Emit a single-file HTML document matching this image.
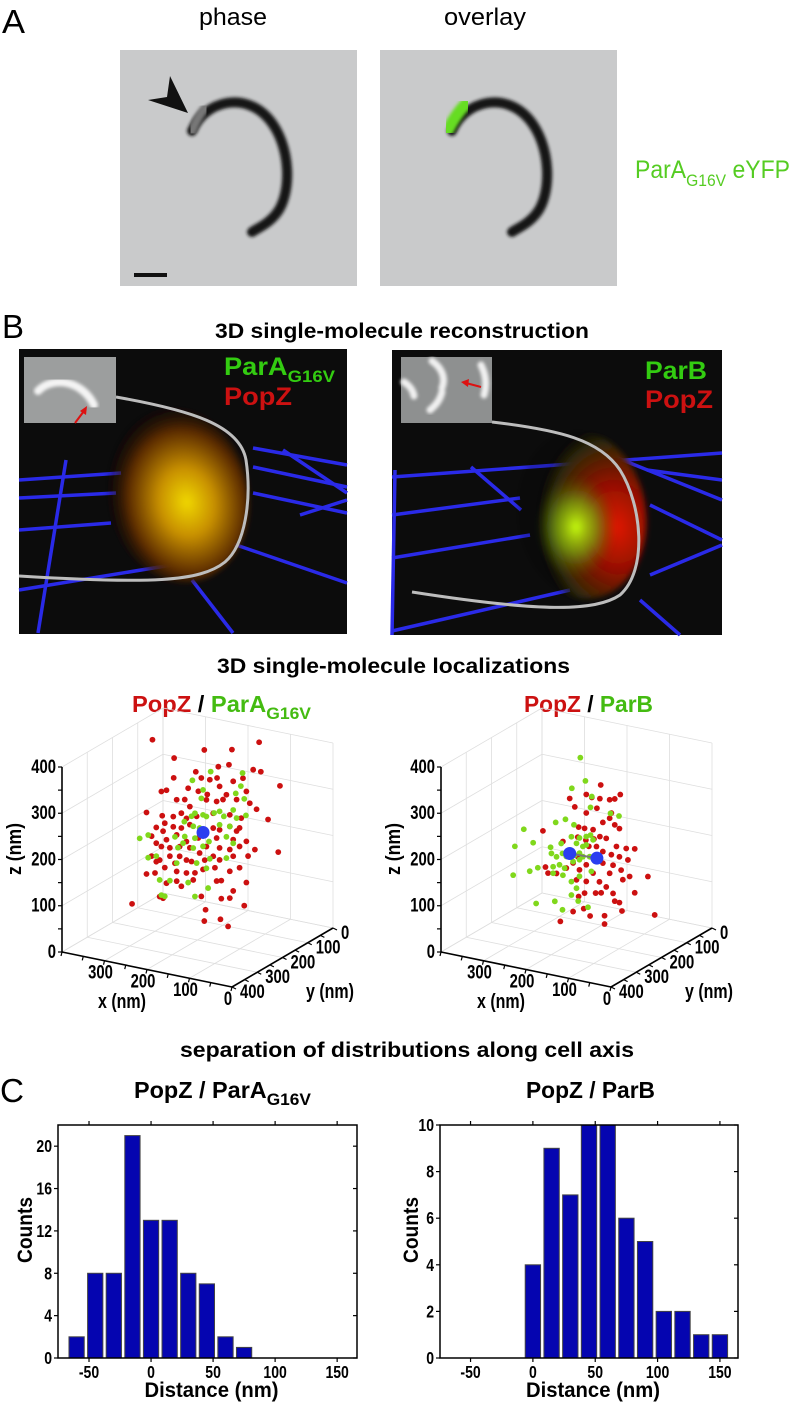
<!DOCTYPE html>
<html><head><meta charset="utf-8"><style>
html,body{margin:0;padding:0;background:#fff}
svg{display:block}
.n{font-family:"Liberation Sans",sans-serif}
.b{font-family:"Liberation Sans",sans-serif;font-weight:bold}
</style></head><body>
<svg id="fig" width="793" height="1405" viewBox="0 0 793 1405" xmlns="http://www.w3.org/2000/svg">
<defs>
<filter id="blur1"><feGaussianBlur stdDeviation="1.6"/></filter>
<filter id="blur3"><feGaussianBlur stdDeviation="3"/></filter>
<radialGradient id="gL" cx="0.55" cy="0.55" r="0.55">
<stop offset="0" stop-color="#f0d800"/><stop offset="0.35" stop-color="#c89000"/><stop offset="0.75" stop-color="#5a2a05"/><stop offset="1" stop-color="#1a0a04" stop-opacity="0.2"/></radialGradient>
<radialGradient id="gR" cx="0.75" cy="0.6" r="0.6">
<stop offset="0" stop-color="#e01800"/><stop offset="0.45" stop-color="#901000"/><stop offset="0.85" stop-color="#302a08"/><stop offset="1" stop-color="#141008" stop-opacity="0.2"/></radialGradient>
<radialGradient id="gG" cx="0.5" cy="0.5" r="0.5">
<stop offset="0" stop-color="#c8ff10"/><stop offset="0.5" stop-color="#78b010" stop-opacity="0.7"/><stop offset="1" stop-color="#406010" stop-opacity="0"/></radialGradient>
</defs>

<!-- Panel A -->
<text class="n" x="2" y="33" font-size="33" textLength="23" lengthAdjust="spacingAndGlyphs">A</text>
<text class="n" x="199" y="25" font-size="24" textLength="68" lengthAdjust="spacingAndGlyphs">phase</text>
<text class="n" x="444" y="25" font-size="24" textLength="82" lengthAdjust="spacingAndGlyphs">overlay</text>
<g>
<rect x="120" y="50" width="237" height="236" fill="#c9cacb"/>
<path d="M192,131 C205,100 245,92 268,118 C292,145 292,195 276,214 C268,224 258,228 252,232" fill="none" stroke="#151515" stroke-width="10" stroke-linecap="round" filter="url(#blur1)"/>
<path d="M192,131 C196,121 200,114 205,108" fill="none" stroke="#777" stroke-width="9" stroke-linecap="round" filter="url(#blur1)"/>
<polygon points="188,113 148,100 167,97 170,76" fill="#111"/>
<rect x="134" y="273" width="33" height="4" fill="#111"/>
</g>
<g transform="translate(260,0)">
<rect x="120" y="50" width="237" height="236" fill="#c9cacb"/>
<path d="M192,131 C205,100 245,92 268,118 C292,145 292,195 276,214 C268,224 258,228 252,232" fill="none" stroke="#151515" stroke-width="10" stroke-linecap="round" filter="url(#blur1)"/>
<path d="M188,130 C193,120 198,112 206,104" fill="none" stroke="#66dd22" stroke-width="12" stroke-linecap="round" filter="url(#blur1)"/>
</g>
<text class="n" x="635" y="178" font-size="25" fill="#55cc22" textLength="155" lengthAdjust="spacingAndGlyphs">ParA<tspan font-size="17" dy="8">G16V</tspan><tspan dy="-8"> eYFP</tspan></text>

<!-- Panel B -->
<text class="n" x="2" y="338" font-size="33" textLength="22" lengthAdjust="spacingAndGlyphs">B</text>
<text class="b" x="215" y="338" font-size="21" textLength="374" lengthAdjust="spacingAndGlyphs">3D single-molecule reconstruction</text>

<g>
<rect x="19" y="349" width="328" height="285" fill="#0c0c0c"/>
<g stroke="#2a2ae8" stroke-width="3.5" fill="none">
<line x1="19" y1="480" x2="121" y2="473"/><line x1="19" y1="498" x2="116" y2="493"/>
<line x1="19" y1="530" x2="111" y2="523"/><line x1="19" y1="590" x2="202" y2="560"/>
<line x1="253" y1="448" x2="347" y2="465"/><line x1="253" y1="467" x2="347" y2="487"/>
<line x1="253" y1="493" x2="347" y2="513"/><line x1="213" y1="537" x2="347" y2="583"/>
<line x1="192" y1="580" x2="233" y2="633"/><line x1="66" y1="460" x2="38" y2="633"/>
<line x1="283" y1="450" x2="347" y2="493"/><line x1="300" y1="515" x2="347" y2="500"/>
</g>
<ellipse cx="178" cy="495" rx="70" ry="88" fill="url(#gL)" transform="rotate(-12 178 495)" filter="url(#blur3)"/>
<path d="M116,397 C190,410 240,425 246,460 C252,500 245,545 225,562 C200,582 150,584 19,576" fill="none" stroke="#bdbdbd" stroke-width="3"/>
<rect x="24" y="357" width="92" height="66" fill="#9c9e9e"/>
<path d="M38,391 C52,376 82,380 94,405" fill="none" stroke="#f4f4f4" stroke-width="8" stroke-linecap="round" filter="url(#blur1)"/>
<line x1="75" y1="423" x2="84" y2="411" stroke="#dd1111" stroke-width="2"/>
<polygon points="87,406 86,415 80,411" fill="#dd1111"/>
<text class="b" x="224" y="375" font-size="25" fill="#33cc11" textLength="111" lengthAdjust="spacingAndGlyphs">ParA<tspan font-size="17" dy="7">G16V</tspan></text>
<text class="b" x="224" y="405" font-size="25" fill="#cc1111" textLength="68" lengthAdjust="spacingAndGlyphs">PopZ</text>
</g>

<g>
<rect x="392" y="350" width="330" height="285" fill="#0c0c0c"/>
<g stroke="#2a2ae8" stroke-width="3.5" fill="none">
<line x1="392" y1="477" x2="722" y2="453"/><line x1="392" y1="515" x2="520" y2="498"/>
<line x1="392" y1="558" x2="530" y2="535"/><line x1="392" y1="631" x2="570" y2="590"/>
<line x1="647" y1="470" x2="722" y2="480"/><line x1="650" y1="505" x2="722" y2="540"/>
<line x1="471" y1="467" x2="521" y2="510"/><line x1="395" y1="470" x2="392" y2="635"/>
<line x1="640" y1="600" x2="680" y2="635"/><line x1="610" y1="455" x2="722" y2="500"/>
<line x1="650" y1="575" x2="722" y2="545"/>
</g>
<ellipse cx="582" cy="515" rx="64" ry="84" fill="url(#gR)" transform="rotate(-8 582 515)" filter="url(#blur3)"/>
<ellipse cx="576" cy="527" rx="40" ry="52" fill="url(#gG)" filter="url(#blur3)"/>
<path d="M492,422 C560,430 600,440 620,470 C642,505 648,570 620,595 C595,612 540,612 412,592" fill="none" stroke="#bdbdbd" stroke-width="3"/>
<rect x="401" y="357" width="91" height="66" fill="#8e9090"/>
<g fill="none" stroke="#f0f0f0" stroke-width="7" stroke-linecap="round" filter="url(#blur1)">
<path d="M432,361 C442,368 446,378 442,388"/><path d="M442,392 C440,400 436,405 430,410"/>
<path d="M481,365 C486,375 487,385 484,395"/><path d="M404,382 C410,386 413,390 414,396"/>
</g>
<line x1="481" y1="387" x2="466" y2="383" stroke="#dd1111" stroke-width="2"/>
<polygon points="461,382 469,379 468,387" fill="#dd1111"/>
<text class="b" x="645" y="379" font-size="25" fill="#33cc11" textLength="62" lengthAdjust="spacingAndGlyphs">ParB</text>
<text class="b" x="645" y="408" font-size="25" fill="#cc1111" textLength="68" lengthAdjust="spacingAndGlyphs">PopZ</text>
</g>

<text class="b" x="217" y="673" font-size="21" textLength="353" lengthAdjust="spacingAndGlyphs">3D single-molecule localizations</text>
<text class="b" x="132" y="712" font-size="23" textLength="179" lengthAdjust="spacingAndGlyphs"><tspan fill="#cc1111">PopZ</tspan><tspan fill="#000"> / </tspan><tspan fill="#44bb11">ParA</tspan><tspan fill="#44bb11" font-size="17" dy="7">G16V</tspan></text>
<text class="b" x="524" y="712" font-size="23" textLength="129" lengthAdjust="spacingAndGlyphs"><tspan fill="#cc1111">PopZ</tspan><tspan fill="#000"> / </tspan><tspan fill="#44bb11">ParB</tspan></text>

<g id="scatters"></g>

<!-- Panel C -->
<text class="b" x="180" y="1057" font-size="21" textLength="454" lengthAdjust="spacingAndGlyphs">separation of distributions along cell axis</text>
<text class="n" x="0" y="1102" font-size="33" textLength="24" lengthAdjust="spacingAndGlyphs">C</text>
<text class="b" x="134" y="1098" font-size="23" textLength="177" lengthAdjust="spacingAndGlyphs">PopZ / ParA<tspan font-size="17" dy="7">G16V</tspan></text>
<text class="b" x="526" y="1098" font-size="23" textLength="129" lengthAdjust="spacingAndGlyphs">PopZ / ParB</text>
<g id="hists"></g>
</svg>

<script>
// ---------- Histogram data ----------
const histLeftCenters = [-60,-45,-30,-15,0,15,30,45,60,75];
const histLeftCounts = [2,8,8,21,13,13,8,7,2,1];
const histRightCenters = [0,15,30,45,60,75,90,105,120,135,150];
const histRightCounts = [4,9,7,10,10,6,5,2,2,1,1];
const histXTicks = [-50,0,50,100,150];
const histLeftYTicks = [0,4,8,12,16,20];
const histRightYTicks = [0,2,4,6,8,10];
const binWidth = 15;

// ---------- 3D scatter data (nm); y assumed at 200 nm depth ----------
const leftRedX = [306,184,119,55,255,151,126,69,51,204,191,171,154,116,93,256,6,285,273,222,198,177,148,132,85,230,249,218,179,155,140,108,77,61,320,283,257,238,226,202,163,124,97,34,297,277,257,238,218,163,148,124,108,101,308,281,273,249,226,198,155,116,85,297,285,265,242,218,179,148,124,101,65,10,308,289,265,242,226,195,163,148,116,81,320,300,277,249,226,206,187,159,124,101,273,249,210,155,144,116,85,238,289,281,191,144,124,90,354,181,184,146,128,297,253,183,214];
const leftRedZ = [413,414,427,455,383,384,393,393,392,363,352,352,359,359,370,340,370,305,310,324,322,319,342,327,343,298,294,285,307,308,315,321,319,309,253,253,256,267,258,267,281,285,283,292,225,238,234,235,246,249,248,260,253,261,204,220,203,218,208,221,229,233,235,191,186,187,194,196,206,209,210,221,221,226,161,156,169,173,168,189,188,183,197,204,120,126,142,139,140,144,155,164,163,175,109,118,128,136,139,122,146,109,77,75,96,100,105,95,49,69,44,55,43,151,156,176,167];
const leftGreenX = [169,94,212,98,187,110,191,90,206,187,179,161,148,138,116,108,86,231,210,195,148,124,336,316,253,230,206,187,173,132,116,246,210,187,297,316,249,202,171,132,289,265,222,175,285,277,206,179,234,214];
const leftGreenZ = [370,381,343,352,327,334,308,326,273,273,271,282,288,279,297,281,291,250,244,243,259,260,194,205,213,218,219,230,218,236,225,191,197,205,163,156,157,166,181,190,113,116,120,117,81,80,93,159,203,265];
const leftCentroids = [[187,235]];
const rightRedX = [143,177,216,164,145,122,110,97,204,152,177,118,122,138,279,195,181,161,145,110,99,232,197,178,159,130,106,83,63,171,153,138,118,99,79,197,208,177,138,114,95,273,267,247,224,193,161,122,75,32,91,200,177,146,130,114,142,155,63,181,195,99,110,208,183,168,134,93,238,134,16];
const rightRedZ = [346,319,303,315,316,318,322,334,287,294,279,290,278,266,221,245,245,246,234,266,260,207,223,220,226,233,220,220,223,208,211,203,200,199,196,181,165,167,178,178,171,144,132,135,151,153,152,159,161,169,151,130,131,136,128,117,113,110,128,105,95,100,101,60,71,58,65,83,33,47,89];
const rightGreenX = [191,179,211,164,167,120,100,226,249,206,324,302,345,261,236,212,193,177,167,161,200,185,177,259,247,233,224,204,193,185,169,208,193,291,255,240,228,310,349,255,232,193,165,212,200,212,196,295,251,233,173];
const rightGreenZ = [396,348,326,317,293,289,287,256,245,248,216,191,175,189,202,221,222,228,233,224,209,205,210,176,171,181,176,183,189,183,186,168,175,139,148,155,150,128,112,134,134,139,155,124,112,95,85,61,74,59,76];
const rightCentroids = [[216,184],[152,186]];
const axisTicks3D = [0,100,200,300,400];
const xTickLabels3D = [0,100,200,300];
const pointDepth = 200;

const NS = "http://www.w3.org/2000/svg";
function mk(tag, attrs, parent){
  const e = document.createElementNS(NS, tag);
  for (const k in attrs) e.setAttribute(k, attrs[k]);
  parent.appendChild(e);
  return e;
}
// condensed text: horizontal squeeze around anchor x
function ctext(parent, x, y, str, size, anchor, sx){
  const t = mk('text', {x: x, y: y, 'font-size': size, 'text-anchor': anchor || 'start', class: 'b',
    transform: `translate(${x},0) scale(${sx || 0.8},1) translate(${-x},0)`}, parent);
  t.textContent = str;
  return t;
}

// ---------- Histograms ----------
const hists = document.getElementById('hists');
function drawHist(name, left, right, xmin, xmax, ymax, centers, counts, yTicks, countsX){
  const top = 1125, bottom = 1358;
  const xs = v => left + (v - xmin) / (xmax - xmin) * (right - left);
  const ys = v => bottom - v / ymax * (bottom - top);
  const g = mk('g', {}, hists);
  
  
  for (let i = 0; i < centers.length; i++) {
    const x0 = xs(centers[i] - binWidth * 0.41), x1 = xs(centers[i] + binWidth * 0.41);
    const r = mk('rect', {x: x0, y: ys(counts[i]), width: x1 - x0, height: ys(0) - ys(counts[i]), fill: '#0505b0', stroke: '#444', 'stroke-width': 1}, g);
    
    
  }
  const fr = mk('rect', {x: left, y: top, width: right - left, height: bottom - top, fill: 'none', stroke: '#000', 'stroke-width': 1.5}, g);
  
  
  histXTicks.forEach(t => {
    const x = xs(t);
    mk('line', {x1: x, y1: bottom, x2: x, y2: bottom + 4, stroke: '#000', 'stroke-width': 1.2}, g);
    mk('line', {x1: x, y1: top, x2: x, y2: top - 4, stroke: '#000', 'stroke-width': 1.2}, g);
    const tx = ctext(g, x, 1378, String(t), 18, 'middle', 0.78);
    
    
  });
  yTicks.forEach(t => {
    const y = ys(t);
    mk('line', {x1: left, y1: y, x2: left - 4, y2: y, stroke: '#000', 'stroke-width': 1.2}, g);
    mk('line', {x1: right, y1: y, x2: right - 4, y2: y, stroke: '#000', 'stroke-width': 1.2}, g);
    const tx = ctext(g, left - 6, y + 6, String(t), 18, 'end', 0.78);
    
    
  });
  const xl = mk('text', {x: (left + right) / 2 - 67 + 4, y: 1397, 'font-size': 21, class: 'b', textLength: 134, lengthAdjust: 'spacingAndGlyphs'}, g);
  xl.textContent = 'Distance (nm)';
  
  
  const yl = mk('text', {x: -33, y: 0, 'font-size': 21, class: 'b', textLength: 66, lengthAdjust: 'spacingAndGlyphs', transform: `translate(${countsX},1230) rotate(-90)`}, g);
  yl.textContent = 'Counts';
  
  
}
drawHist('histogram-popz-paraG16V', 58, 357, -75, 166, 22, histLeftCenters, histLeftCounts, histLeftYTicks, 32);
drawHist('histogram-popz-parb', 440, 738, -74.5, 164.5, 10, histRightCenters, histRightCounts, histRightYTicks, 418);

// ---------- 3D scatters ----------
const scat = document.getElementById('scatters');
function drawScatter(name, ox, redX, redZ, greenX, greenZ, cents){
  const P = (x, y, z) => [333 + ox - 0.425 * x - 0.2525 * y, 928 - 0.0875 * x + 0.1475 * y - 0.4625 * z];
  const g = mk('g', {}, scat);
  
  
  const grid = mk('g', {stroke: '#dedede', 'stroke-width': 0.8}, g);
  const L = (a, b, par, st) => { const p = P(...a), q = P(...b); return mk('line', Object.assign({x1: p[0], y1: p[1], x2: q[0], y2: q[1]}, st || {}), par); };
  axisTicks3D.forEach(t => {
    L([t,0,0],[t,400,0],grid); L([0,t,0],[400,t,0],grid);
    L([400,t,0],[400,t,400],grid); L([400,0,t],[400,400,t],grid);
    L([t,0,0],[t,0,400],grid); L([0,0,t],[400,0,t],grid);
  });
  const ax = {stroke: '#000', 'stroke-width': 1.6};
  L([400,400,0],[400,400,400],g,ax); L([400,400,0],[0,400,0],g,ax); L([0,400,0],[0,0,0],g,ax);
  for (let t = 0; t <= 400; t += 50) {
    const pz = P(400,400,t); mk('line', {x1: pz[0], y1: pz[1], x2: pz[0]-4, y2: pz[1], stroke: '#000', 'stroke-width': 1.2}, g);
    const px = P(t,400,0); mk('line', {x1: px[0], y1: px[1], x2: px[0]-1, y2: px[1]+4, stroke: '#000', 'stroke-width': 1.2}, g);
    const py = P(0,t,0); mk('line', {x1: py[0], y1: py[1], x2: py[0]+4, y2: py[1]+2, stroke: '#000', 'stroke-width': 1.2}, g);
  }
  axisTicks3D.forEach(t => {
    const pz = P(400,400,t);
    const a = ctext(g, pz[0] - 6, pz[1] + 6, String(t), 19, 'end', 0.78);
    
    
    const py = P(0,t,0);
    const c = ctext(g, py[0] + 8, py[1] + 11, String(t), 19, 'start', 0.78);
    
    
  });
  xTickLabels3D.forEach(t => {
    const px = P(t,400,0);
    const b = ctext(g, px[0] - 4, px[1] + 18, String(t), 19, 'middle', 0.78);
    
    
  });
  const xt = ctext(g, 122 + ox, 1008, 'x (nm)', 20, 'middle', 0.8);
  
  
  const yt = ctext(g, 330 + ox, 998, 'y (nm)', 20, 'middle', 0.8);
  
  
  const zt = mk('text', {x: -26, y: 0, 'font-size': 20, class: 'b', textLength: 52, lengthAdjust: 'spacingAndGlyphs', transform: `translate(${21 + ox},849) rotate(-90)`}, g);
  zt.textContent = 'z (nm)';
  
  
  for (let i = 0; i < Math.min(redX.length, redZ.length); i++) {
    const p = P(redX[i], pointDepth, redZ[i]);
    const c = mk('circle', {cx: p[0], cy: p[1], r: 2.9, fill: '#cc1010'}, g);
    
    
  }
  for (let i = 0; i < Math.min(greenX.length, greenZ.length); i++) {
    const p = P(greenX[i], pointDepth, greenZ[i]);
    const c = mk('circle', {cx: p[0], cy: p[1], r: 2.9, fill: '#80d81c'}, g);
    
    
  }
  if (cents.length > 1) {
    const a = P(cents[0][0], pointDepth, cents[0][1]), b = P(cents[1][0], pointDepth, cents[1][1]);
    mk('line', {x1: a[0], y1: a[1], x2: b[0], y2: b[1], stroke: '#777', 'stroke-width': 2}, g);
  }
  cents.forEach(cn => {
    const p = P(cn[0], pointDepth, cn[1]);
    const c = mk('circle', {cx: p[0], cy: p[1], r: 6.5, fill: '#2a3ef0'}, g);
    
    
  });
}
drawScatter('scatter-popz-paraG16V', 0, leftRedX, leftRedZ, leftGreenX, leftGreenZ, leftCentroids);
drawScatter('scatter-popz-parb', 379, rightRedX, rightRedZ, rightGreenX, rightGreenZ, rightCentroids);
</script>
</body></html>
